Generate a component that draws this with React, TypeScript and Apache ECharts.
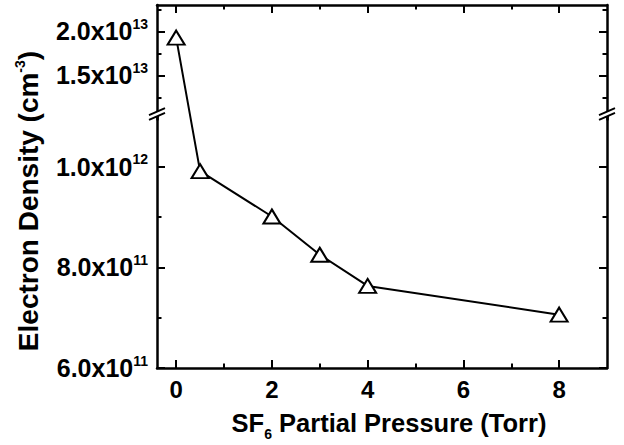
import React, { useEffect, useRef } from 'react';
import * as echarts from 'echarts';

// ---- data ----
const pressureTorr = [0, 0.5, 2, 3, 4, 8];
const electronDensity = [1.93e13, 9.91e11, 9.01e11, 8.25e11, 7.63e11, 7.06e11];
const xTickValues = [0, 2, 4, 6, 8];
const lowerTickValues = [6e11, 8e11, 1e12];
const upperTickValues = [1.5e13, 2.0e13];
const lowerRange = [6e11, 1.1e12];
const upperRange = [1.0e13, 2.3e13];
const xRange = [-0.4, 9];
const breakThreshold = 5e12;

// ---- layout ----
const W = 624;
const H = 445;
const LEFT = 157;
const RIGHT_X = 607;
const TOP = 5;
const BOTTOM_Y = 368;
const UPPER_BOTTOM_Y = 119.4;
const LOWER_TOP_Y = 116.3;
const BREAK_Y = 114;
const FONT = 'Liberation Sans';
const LABEL_SIZE = 25;
const SUP_SIZE = 14;
const TITLE_SIZE = 25.5;
const YTITLE_SIZE = 28;

const sci = (v: number) => {
  const exp = Math.floor(Math.log10(v) + 1e-9);
  const m = v / Math.pow(10, exp);
  return `{mant|${m.toFixed(1)}x10}{pw|${exp}}`;
};

const labelRich = {
  mant: { fontSize: LABEL_SIZE, fontWeight: 'bold', fontFamily: FONT, color: '#000', lineHeight: 29 },
  pw: { fontSize: SUP_SIZE, fontWeight: 'bold', fontFamily: FONT, color: '#000', lineHeight: 14, verticalAlign: 'top' },
};

const tickStyle = { lineStyle: { color: '#000', width: 2 } };

function yAxisDef(gridIndex: number, range: number[], interval: number, ticks: number[], side: 'left' | 'right') {
  return {
    type: 'value',
    gridIndex,
    position: side,
    min: range[0],
    max: range[1],
    interval,
    axisLine: { show: true, onZero: false, lineStyle: { color: '#000', width: 2.5 } },
    axisTick: { show: true, inside: true, length: 8, customValues: ticks, ...tickStyle },
    minorTick: { show: true, splitNumber: 2, length: 4.5, ...tickStyle },
    splitLine: { show: false },
    axisLabel: side === 'left'
      ? {
          show: true,
          margin: 9,
          customValues: ticks,
          fontSize: LABEL_SIZE,
          fontWeight: 'bold',
          fontFamily: FONT,
          color: '#000',
          formatter: (v: number) => sci(v),
          rich: labelRich,
        }
      : { show: false },
  };
}

function xAxisDef(gridIndex: number, side: 'top' | 'bottom') {
  return {
    type: 'value',
    gridIndex,
    position: side,
    min: xRange[0],
    max: xRange[1],
    splitNumber: 5,
    axisLine: { show: true, onZero: false, lineStyle: { color: '#000', width: 2.5 } },
    axisTick: { show: true, inside: true, length: 8, customValues: xTickValues, ...tickStyle },
    minorTick: { show: true, splitNumber: 2, length: 4.5, ...tickStyle },
    splitLine: { show: false },
    axisLabel: side === 'bottom'
      ? {
          show: true,
          margin: 9,
          customValues: xTickValues,
          color: '#000',
          fontSize: 24,
          fontWeight: 'bold',
          fontFamily: FONT,
          formatter: (v: number) => String(v),
        }
      : { show: false },
  };
}

function breakMarks() {
  const dx = 8;
  const dy = 3.5;
  const g = 4.8;
  const els: any[] = [];
  [LEFT, RIGHT_X].forEach((x0) => {
    const yU = BREAK_Y - g / 2;
    const yL = BREAK_Y + g / 2;
    els.push({
      type: 'polygon',
      z: 100,
      shape: { points: [[x0 - dx, yU + dy], [x0 + dx, yU - dy], [x0 + dx, yL - dy], [x0 - dx, yL + dy]] },
      style: { fill: '#fff' },
    });
    [yU, yL].forEach((yc) => {
      els.push({
        type: 'line',
        z: 101,
        shape: { x1: x0 - dx, y1: yc + dy, x2: x0 + dx, y2: yc - dy },
        style: { stroke: '#000', lineWidth: 2 },
      });
    });
  });
  return els;
}

export default function App() {
  const ref = useRef<HTMLDivElement>(null);
  useEffect(() => {
    if (!ref.current) return;
    const chart = echarts.init(ref.current, undefined, { renderer: 'svg' });
    const dataMax = lowerRange[0] + ((BOTTOM_Y - TOP) / (BOTTOM_Y - LOWER_TOP_Y)) * (lowerRange[1] - lowerRange[0]);
    chart.setOption({
      animation: false,
      backgroundColor: '#fff',
      grid: [
        { left: LEFT, right: W - RIGHT_X, top: TOP, bottom: H - UPPER_BOTTOM_Y },
        { left: LEFT, right: W - RIGHT_X, top: LOWER_TOP_Y, bottom: H - BOTTOM_Y },
        { left: LEFT, right: W - RIGHT_X, top: TOP, bottom: H - BOTTOM_Y },
      ],
      xAxis: [
        xAxisDef(0, 'top'),
        xAxisDef(1, 'bottom'),
        { type: 'value', gridIndex: 2, show: false, min: xRange[0], max: xRange[1] },
      ],
      yAxis: [
        yAxisDef(0, upperRange, 0.5e13, upperTickValues, 'left'),
        yAxisDef(0, upperRange, 0.5e13, upperTickValues, 'right'),
        yAxisDef(1, lowerRange, 2e11, lowerTickValues, 'left'),
        yAxisDef(1, lowerRange, 2e11, lowerTickValues, 'right'),
        { type: 'value', gridIndex: 2, show: false, min: lowerRange[0], max: dataMax },
      ],
      graphic: [
        ...breakMarks(),
        {
          type: 'text',
          x: 389,
          y: 423,
          style: {
            text: '{m|SF}{b|6}{m| Partial Pressure (Torr)}',
            align: 'center',
            verticalAlign: 'middle',
            rich: {
              m: { fontSize: TITLE_SIZE, fontWeight: 'bold', fontFamily: FONT, fill: '#000', lineHeight: 36 },
              b: { fontSize: SUP_SIZE, fontWeight: 'bold', fontFamily: FONT, fill: '#000', lineHeight: 14, verticalAlign: 'bottom' },
            },
          },
        },
        {
          type: 'text',
          x: 28,
          y: 201,
          rotation: Math.PI / 2,
          style: {
            text: '{m|Electron Density (cm}{s|-3}{m|)}',
            align: 'center',
            verticalAlign: 'middle',
            rich: {
              m: { fontSize: YTITLE_SIZE, fontWeight: 'bold', fontFamily: FONT, fill: '#000', lineHeight: 31 },
              s: { fontSize: SUP_SIZE, fontWeight: 'bold', fontFamily: FONT, fill: '#000', lineHeight: 14, verticalAlign: 'top' },
            },
          },
        },
      ],
      series: [],
    });

    const points = pressureTorr.map((x, i) => {
      const v = electronDensity[i];
      const upper = v > breakThreshold;
      const px = chart.convertToPixel(
        { xAxisIndex: upper ? 0 : 1, yAxisIndex: upper ? 0 : 2 } as any,
        [x, v]
      ) as number[];
      return chart.convertFromPixel({ xAxisIndex: 2, yAxisIndex: 4 } as any, px) as number[];
    });

    chart.setOption({
      series: [
        {
          type: 'line',
          xAxisIndex: 2,
          yAxisIndex: 4,
          data: points,
          symbol: 'triangle',
          symbolSize: [17, 14],
          showSymbol: true,
          clip: false,
          z: 10,
          lineStyle: { color: '#000', width: 2 },
          itemStyle: { color: '#fff', borderColor: '#000', borderWidth: 2 },
        },
      ],
    });

    return () => chart.dispose();
  }, []);
  return <div ref={ref} style={{ position: 'absolute', left: 0, top: 0, width: W, height: H }} />;
}
